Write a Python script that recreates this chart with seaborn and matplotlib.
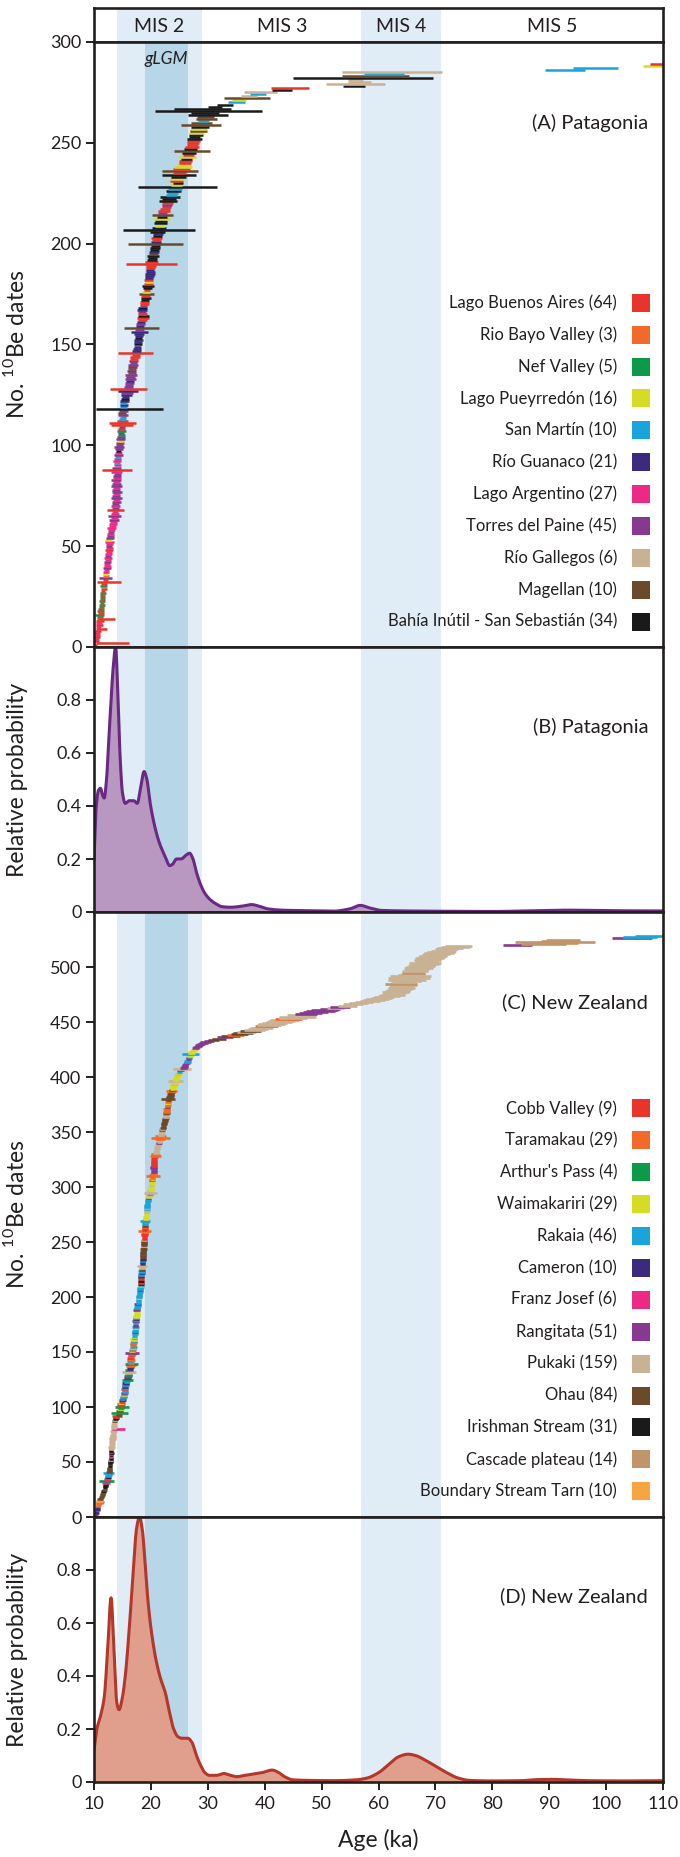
import numpy as np
import pandas as pd
import matplotlib
matplotlib.use("Agg")
import matplotlib.pyplot as plt
from matplotlib.patches import Rectangle
import seaborn as sns

# ---------------- DATA ----------------
MIS_NAMES = ["MIS 2", "MIS 3", "MIS 4", "MIS 5"]
MIS_CENTERS = [21.5, 43.0, 64.0, 90.5]
MIS2_SPAN = (14.0, 29.0)
GLGM_SPAN = (19.0, 26.5)
MIS4_SPAN = (57.0, 71.0)

A_SITES = ["Lago Buenos Aires (64)", "Rio Bayo Valley (3)", "Nef Valley (5)",
           "Lago Pueyrredón (16)", "San Martín (10)", "Río Guanaco (21)",
           "Lago Argentino (27)", "Torres del Paine (45)", "Río Gallegos (6)",
           "Magellan (10)", "Bahía Inútil - San Sebastián (34)"]
A_CODES = "rogycdpvtbk"

C_SITES = ["Cobb Valley (9)", "Taramakau (29)", "Arthur's Pass (4)", "Waimakariri (29)",
           "Rakaia (46)", "Cameron (10)", "Franz Josef (6)", "Rangitata (51)",
           "Pukaki (159)", "Ohau (84)", "Irishman Stream (31)", "Cascade plateau (14)",
           "Boundary Stream Tarn (10)"]
C_CODES = "rogycdpvtbksa"

A_AGE = [
    10.2, 13.2, 10.4, 10.5, 10.4, 10.6, 10.5, 10.7, 11.3, 10.8,
    11.0, 10.9, 11.0, 12.1, 11.1, 11.0, 11.2, 11.1, 11.2, 11.3,
    11.35, 11.4, 11.4, 11.5, 11.5, 11.5, 11.6, 11.6, 11.7, 11.7,
    11.7, 12.6, 12.0, 12.0, 12.1, 12.0, 12.1, 12.2, 12.2, 12.3,
    12.3, 12.4, 12.4, 12.5, 12.5, 12.6, 12.6, 12.6, 12.7, 12.6,
    12.7, 12.7, 12.6, 12.8, 12.9, 12.9, 13.0, 13.1, 13.1, 13.2,
    13.3, 13.4, 13.5, 13.6, 13.6, 13.7, 13.7, 13.75, 13.8, 13.8,
    13.85, 13.9, 13.9, 13.9, 13.9, 14.0, 14.0, 13.9, 14.0, 14.0,
    14.0, 14.0, 13.9, 14.0, 14.0, 14.1, 14.0, 14.0, 14.0, 14.1,
    14.1, 14.1, 14.2, 14.2, 14.3, 14.3, 14.3, 14.4, 14.4, 14.5,
    14.6, 14.6, 14.7, 14.7, 14.8, 14.8, 14.9, 14.9, 14.9, 14.9,
    15.0, 15.0, 15.0, 15.1, 15.1, 15.0, 15.2, 16.2, 15.2, 15.3,
    15.2, 15.3, 15.4, 15.5, 15.7, 15.8, 16.0, 16.1, 16.0, 16.2,
    16.2, 16.3, 16.4, 16.4, 16.5, 16.6, 16.6, 16.7, 16.8, 16.9,
    16.9, 17.0, 17.1, 17.2, 17.3, 17.35, 17.4, 17.5, 17.6, 17.7,
    17.7, 17.8, 17.8, 17.9, 17.9, 18.0, 18.0, 18.4, 18.1, 18.2,
    18.3, 18.5, 18.6, 18.7, 18.5, 18.4, 18.5, 18.6, 18.7, 18.8,
    18.9, 19.0, 19.1, 19.1, 19.2, 19.2, 19.3, 19.4, 19.5, 19.5,
    19.6, 19.6, 19.7, 19.8, 19.8, 19.9, 19.9, 19.9, 20.0, 20.1,
    20.1, 20.2, 20.3, 20.4, 20.4, 20.5, 20.6, 20.7, 20.8, 20.8,
    20.9, 21.0, 21.0, 21.1, 21.2, 21.2, 21.45, 21.4, 21.6, 21.7,
    21.8, 21.9, 22.0, 22.0, 22.1, 22.3, 22.5, 22.7, 22.8, 22.9,
    23.0, 23.2, 23.4, 23.6, 23.8, 24.0, 24.2, 24.7, 24.5, 24.7,
    24.5, 24.6, 24.8, 24.9, 25.0, 25.1, 25.3, 25.6, 25.8, 26.0,
    26.1, 26.3, 26.5, 26.6, 26.7, 27.2, 27.0, 27.2, 27.3, 27.4,
    27.5, 27.6, 27.7, 27.9, 28.0, 28.3, 28.5, 28.6, 28.8, 28.9,
    29.2, 29.8, 29.6, 30.0, 29.5, 30.2, 29.0, 31.3, 33.1, 35.1,
    35.5, 36.9, 37.2, 38.8, 39.2, 43.0, 44.4, 55.7, 55.9, 56.6,
    56.0, 57.2, 59.4, 61.0, 62.3, 92.8, 98.1, 110.5, 112.0]
A_ERR = [
    0.4, 2.9, 0.5, 0.4, 0.6, 0.4, 0.6, 0.5, 1.0, 0.5,
    0.6, 0.5, 0.7, 1.6, 0.5, 0.8, 0.5, 0.6, 0.5, 0.5,
    0.5, 0.4, 0.6, 0.5, 0.4, 0.5, 0.5, 0.4, 0.5, 0.6,
    0.5, 2.1, 0.5, 1.1, 0.6, 0.5, 0.6, 0.5, 0.7, 0.6,
    0.5, 0.6, 0.5, 0.7, 0.5, 0.6, 0.5, 0.7, 0.6, 0.5,
    0.6, 0.8, 0.6, 0.7, 0.6, 0.6, 0.5, 0.6, 0.8, 0.6,
    0.7, 0.6, 0.9, 0.6, 1.2, 0.7, 0.6, 1.5, 0.6, 0.8,
    0.6, 0.8, 0.6, 1.0, 0.7, 0.6, 0.9, 0.7, 0.6, 1.0,
    0.8, 0.6, 0.9, 0.7, 0.7, 0.6, 1.0, 2.6, 0.8, 0.6,
    0.5, 0.7, 0.6, 0.5, 0.8, 0.6, 0.5, 0.7, 0.8, 0.6,
    0.7, 0.6, 0.8, 0.7, 0.6, 0.5, 0.8, 0.6, 0.5, 2.0,
    2.3, 0.9, 0.6, 0.5, 0.8, 0.7, 0.8, 5.9, 0.6, 0.7,
    0.6, 0.8, 0.7, 0.6, 0.9, 1.0, 1.7, 3.3, 0.8, 0.7,
    0.8, 0.7, 0.9, 0.8, 1.0, 0.7, 0.8, 0.7, 0.8, 0.9,
    0.6, 0.8, 0.7, 0.9, 0.7, 3.05, 0.8, 0.7, 0.6, 0.7,
    0.7, 0.8, 0.6, 0.7, 0.8, 1.5, 0.8, 3.1, 0.7, 0.8,
    0.7, 0.8, 1.1, 0.9, 0.8, 0.7, 0.9, 0.8, 0.7, 0.8,
    0.8, 0.7, 0.9, 0.8, 1.3, 0.7, 0.6, 0.8, 1.0, 0.8,
    0.7, 0.8, 0.7, 0.8, 0.9, 0.8, 0.7, 0.8, 0.9, 4.4,
    1.2, 0.9, 0.8, 1.0, 0.8, 0.9, 0.8, 0.9, 0.8, 4.9,
    0.9, 0.8, 1.0, 0.8, 0.9, 1.3, 6.3, 1.2, 0.9, 1.1,
    1.0, 1.4, 0.9, 1.8, 0.8, 1.0, 0.9, 0.8, 0.9, 1.0,
    1.5, 1.2, 1.8, 1.0, 1.0, 1.3, 1.2, 6.9, 1.0, 0.9,
    1.1, 1.2, 1.3, 3.0, 1.2, 3.1, 1.5, 1.6, 1.2, 1.0,
    1.2, 1.0, 1.5, 1.0, 1.2, 3.1, 1.1, 1.2, 1.0, 1.0,
    1.2, 1.3, 1.0, 1.2, 1.3, 1.5, 1.4, 1.6, 3.5, 1.8,
    1.0, 1.9, 1.5, 3.5, 2.5, 9.4, 5.0, 1.2, 1.4, 1.5,
    1.3, 4.0, 1.4, 1.4, 2.9, 1.8, 3.3, 1.9, 5.2, 2.0,
    1.3, 12.3, 5.9, 3.5, 8.8, 3.5, 4.0, 4.0, 4.3]
A_SITE = ("rrrprrprrp" "rprrrgrrgr" "grgrgrgrrg" "rrrvoyppvp" "pvppvpprpv"
          "ppyvvpvppp" "ppvpvpprvp" "vvpvvpvvpv" "vpvpvvprvp" "cppcvpkvvv"
          "vyvvgvgrvr" "rrccvbvkcd" "cdkddvdrvv" "vdvvvvbvbv" "vvrrrrdddk"
          "ddkdddvbdv" "drrkrvdkvr" "rkkrbyrkkr" "yrdddddrrr" "rkkkbdkkkb"
          "drrkdkkkyk" "kykbvrrrvr" "kkkcckckyk" "rykkrbryyr" "rkyrkbkrrr"
          "rkkkybykbb" "cbbkkkkkkc" "ybtctkrktt" "tkbctccyr")

C_AGE = [
    10.1, 10.2, 10.3, 10.5, 10.4, 10.5, 10.6, 10.6, 10.7, 10.7,
    10.8, 10.8, 10.9, 11.0, 11.0, 11.1, 11.2, 11.3, 11.4, 11.5,
    11.5, 11.6, 11.7, 11.7, 11.8, 11.9, 11.9, 12.0, 12.0, 12.1,
    12.1, 12.2, 12.2, 12.3, 12.3, 12.4, 12.5, 12.5, 12.6, 12.6,
    12.6, 12.7, 12.7, 12.7, 12.7, 12.8, 12.8, 12.8, 12.8, 12.9,
    12.9, 12.9, 13.0, 13.0, 13.0, 13.0, 13.0, 13.1, 13.0, 13.0,
    13.0, 13.1, 13.1, 13.1, 13.1, 13.2, 13.2, 13.2, 13.2, 13.2,
    13.3, 13.3, 13.3, 13.3, 13.3, 13.4, 13.4, 13.4, 13.4, 14.3,
    13.4, 13.5, 13.5, 13.5, 13.5, 13.6, 13.6, 13.7, 13.8, 13.9,
    13.9, 14.1, 14.3, 14.4, 14.5, 14.5, 14.6, 14.7, 14.8, 14.9,
    14.7, 14.8, 14.7, 14.7, 14.9, 15.0, 15.0, 15.1, 15.2, 15.3,
    15.3, 15.3, 15.3, 15.4, 15.4, 15.4, 15.4, 15.4, 15.5, 15.5,
    15.6, 15.6, 15.7, 15.8, 15.9, 15.9, 16.0, 16.0, 16.0, 16.1,
    16.1, 16.2, 16.3, 16.2, 16.3, 16.4, 16.4, 16.5, 16.6, 16.5,
    16.4, 16.4, 16.5, 16.4, 16.4, 16.5, 16.6, 16.6, 16.7, 16.7,
    16.7, 16.8, 16.8, 16.8, 16.9, 16.9, 16.9, 16.9, 17.0, 17.0,
    17.0, 17.0, 17.1, 17.1, 17.1, 17.2, 17.2, 17.2, 17.2, 17.3,
    17.3, 17.3, 17.3, 17.3, 17.3, 17.3, 17.4, 17.3, 17.4, 17.4,
    17.4, 17.4, 17.4, 17.5, 17.5, 17.5, 17.5, 17.5, 17.6, 17.6,
    17.6, 17.7, 17.7, 17.7, 17.8, 17.8, 17.8, 17.8, 17.9, 17.9,
    17.9, 18.0, 18.0, 18.0, 18.1, 18.1, 18.1, 18.1, 18.2, 18.2,
    18.2, 18.2, 18.2, 18.3, 18.3, 18.3, 18.3, 18.3, 18.3, 18.3,
    18.3, 18.4, 18.4, 18.4, 18.4, 18.4, 18.4, 18.4, 18.5, 18.5,
    18.5, 18.5, 18.5, 18.6, 18.6, 18.6, 18.6, 18.6, 18.6, 18.6,
    18.6, 18.7, 18.7, 18.7, 18.7, 18.7, 18.8, 18.8, 18.8, 18.8,
    18.8, 18.8, 18.9, 18.9, 18.9, 18.9, 18.9, 19.0, 19.0, 18.9,
    18.9, 19.0, 19.0, 19.0, 19.0, 19.0, 19.0, 19.1, 19.0, 19.1,
    19.1, 19.1, 19.1, 19.2, 19.2, 19.2, 19.2, 19.3, 19.3, 19.3,
    19.3, 19.3, 19.3, 19.3, 19.4, 19.4, 19.5, 19.5, 19.6, 19.6,
    19.7, 19.7, 19.8, 19.8, 19.9, 19.9, 20.0, 20.0, 20.0, 20.1,
    20.1, 20.1, 20.1, 20.2, 20.2, 20.2, 20.3, 20.3, 20.3, 20.4,
    20.4, 20.4, 20.5, 20.5, 20.5, 20.5, 20.5, 20.5, 20.5, 20.5,
    20.5, 20.5, 20.5, 20.5, 20.6, 20.6, 20.7, 20.8, 20.8, 20.8,
    20.9, 20.9, 21.0, 21.0, 21.1, 21.1, 21.2, 21.2, 21.3, 21.4,
    21.5, 21.5, 21.6, 21.6, 21.7, 21.7, 21.8, 21.8, 21.9, 21.9,
    22.0, 22.0, 22.0, 22.1, 22.2, 22.2, 22.3, 22.3, 22.4, 22.5,
    22.5, 22.5, 22.6, 22.6, 22.7, 22.7, 22.7, 22.8, 22.8, 22.8,
    22.8, 22.9, 22.9, 22.9, 23.0, 23.0, 23.0, 23.1, 23.1, 23.0,
    23.2, 23.3, 23.4, 23.5, 23.5, 23.6, 23.6, 23.7, 23.8, 23.9,
    23.9, 24.0, 24.0, 24.1, 24.2, 24.3, 24.3, 24.4, 24.5, 24.6,
    24.6, 24.7, 24.8, 24.9, 25.0, 25.2, 25.5, 25.7, 25.9, 26.0,
    26.0, 26.1, 26.3, 26.4, 26.5, 26.6, 26.7, 26.8, 26.9, 27.0,
    27.0, 27.1, 27.2, 27.4, 27.6, 27.8, 28.0, 28.3, 28.5, 28.8,
    29.2, 29.6, 30.2, 31.0, 32.0, 33.0, 34.0, 34.8, 35.5, 36.2,
    36.8, 37.5, 38.2, 38.8, 39.5, 40.3, 40.8, 41.2, 41.8, 42.5,
    43.0, 43.5, 44.2, 45.0, 45.8, 46.5, 47.3, 48.0, 49.0, 49.8,
    50.5, 51.5, 52.5, 53.2, 54.5, 55.5, 56.5, 57.5, 58.5, 59.2,
    59.8, 60.5, 61.0, 61.8, 62.5, 62.8, 63.0, 63.3, 63.5, 63.8,
    64.0, 64.0, 64.2, 64.5, 64.0, 64.5, 64.8, 65.0, 65.2, 65.4,
    65.5, 65.6, 65.8, 66.0, 66.2, 66.4, 66.5, 66.8, 67.0, 67.2,
    67.5, 67.8, 68.0, 68.2, 68.4, 68.6, 68.8, 69.0, 69.3, 69.6,
    69.9, 70.2, 70.6, 71.0, 71.5, 72.0, 72.5, 73.5, 74.0, 84.4,
    89.0, 90.5, 91.0, 92.0, 92.5, 104.5, 106.0, 108.0]
C_ERR = [
    .3, .3, .4, .4, .3, .5, .4, .3, .4, .4,
    .4, .5, .6, .7, .6, .5, .4, .4, .4, .4,
    .4, .4, .4, .4, .4, .4, .4, .4, .4, .4,
    .7, .4, 1.3, .5, .6, .5, .5, .6, .5, 1.0,
    .5, .4, .4, .4, .4, .4, .4, .4, .4, .4,
    .4, .4, .4, .4, .4, .4, .4, .4, .4, .4,
    .4, .5, .4, .6, .5, .5, .4, .5, .4, .5,
    .5, .6, .5, .5, .5, .5, .5, .6, .5, 1.15,
    .5, .6, .5, .4, .5, .5, .5, .5, .5, .5,
    .5, .9, .5, .5, 1.5, .6, .5, .6, .5, 1.2,
    .6, .5, .7, .5, .5, .6, .5, .5, .6, .5,
    .5, .5, .6, .5, .5, .6, .5, .5, .5, .6,
    .5, .6, .5, .5, 1.0, .6, .5, .7, .6, .5,
    .6, 1.2, .6, .7, .5, .6, .7, .8, 1.2, .6,
    .5, .6, .7, .5, .6, .5, .6, .7, 1.2, .5,
    .5, .6, .5, .5, .6, .5, .5, .6, .5, .5,
    .5, .6, .5, .5, .5, .5, .6, .5, .5, .5,
    .5, .5, .6, .5, .5, .5, .5, .6, .5, .5,
    .5, .5, .6, .5, .5, .5, .5, .6, .5, .5,
    .5, .5, .5, .6, .5, .5, .5, .5, .5, .5,
    .5, .5, .5, .5, .5, .5, .5, .5, .5, .5,
    .5, .5, .5, .5, .5, .5, .5, .5, .5, .5,
    .5, .5, .5, .6, .5, .5, .5, .9, .5, .5,
    .5, .5, .5, .5, .5, .5, .5, .5, .5, .5,
    .5, .5, .5, .6, .5, .5, .5, .5, .5, .5,
    .5, .5, .5, .5, .5, .6, .6, .5, .5, 1.2,
    .5, .5, .5, .5, .5, .5, .5, .5, .9, .5,
    .5, .5, .5, .5, .5, .5, .5, .5, .5, .5,
    .5, .5, .5, .5, .5, .5, .5, .5, .5, .5,
    .5, .5, .5, .5, 1.2, .5, .5, .5, .5, .5,
    .5, .5, .5, .5, .5, .5, .5, .5, .5, 1.2,
    .7, .6, .5, .5, .5, .5, .6, .6, .5, .5,
    .5, .5, .5, .5, .5, .5, .5, .9, .8, .7,
    .5, .5, .5, .5, .5, .5, .5, .5, .5, .5,
    .5, .5, .5, .8, 1.6, 1.0, .5, .5, .5, .5,
    .5, .5, .5, .5, .5, .5, .5, .5, .5, .5,
    .5, .5, .5, .5, .5, .5, .6, .6, .5, .5,
    .6, .5, .5, .5, .6, .5, .5, .5, .5, 1.3,
    .6, .6, .6, .5, .6, .6, 1.0, .6, .5, .5,
    .5, .5, .6, .6, .5, 1.3, .5, .6, .5, .5,
    .5, .5, .5, .5, .5, .6, 1.6, .6, .6, .6,
    .6, .5, .5, .6, .6, .5, .6, .5, .5, .5,
    1.5, .6, .6, .6, .6, .6, .6, .6, .7, .7,
    .8, .9, .9, 1.0, 1.2, 1.4, 1.6, 1.5, 1.5, 1.8,
    1.6, 1.8, 1.8, 1.7, 2.0, 2.0, 2.1, 2.4, 2.2, 2.3,
    2.4, 2.5, 2.4, 2.5, 3.2, 2.6, 1.9, 2.0, 2.2, 2.5,
    2.3, 1.8, 1.5, 1.8, 1.7, 1.8, 1.7, 1.6, 1.7, 2.0,
    2.0, 1.8, 1.8, 1.9, 2.2, 2.0, 2.4, 2.2, 2.0, 2.1,
    2.4, 2.2, 2.1, 2.3, 2.8, 2.0, 2.6, 3.3, 2.2, 3.7,
    2.3, 3.6, 2.4, 2.1, 2.0, 2.3, 1.8, 2.0, 2.5, 2.4,
    2.4, 2.2, 2.6, 2.8, 2.0, 2.4, 2.1, 2.5, 2.3, 2.5,
    2.2, 2.4, 2.6, 2.5, 2.2, 2.0, 2.3, 2.5, 2.4, 2.6,
    4.0, 4.5, 7.0, 3.5, 3.0, 3.5, 3.0, 3.0]
C_SITE = ("ddvddvdddo" "ooooabbbbb" "bbbkbbkkkk" "ppgppkcccc" "bbbbbkkbkk"
          "ktkkpkpkpk" "kttttttttt" "tttttttttp" "ttttttbtkk" "rrbbgbgygg"
          "grryrdcrcc" "ycvccrcdvc" "vdccgdvvgg" "tttgddoogo" "ocoororovv"
          "ycoycocooc" "yycycccvcc" "cycvvccvcd" "cyyyyyyvvc" "cccvccccyc"
          "cccccbccca" "ckrrkrrbdc" "cdccbttttb" "ddcbdbbbvb" "bbbbbtbbbb"
          "btrrrrrroo" "rrrobccocc" "yyyyyytttc" "tccccccccv" "yytcttyyyy"
          "ytyyyryooo" "ooovvvvvrr" "rrrrrrrooo" "tttttttttv" "tttoootttt"
          "tbtbbbbbbb" "bbbttobooo" "oobooyoobb" "bbbbbbobyy" "yyytytyyyy"
          "yytycvtvvv" "vvvccvvcyy" "cyyyyvvvvv" "vvvbbvbobb" "tbtttotttt"
          "ttotttvvvv" "vvtvtttttt" "tttttttttt" "ttttsttttt" "ttttsttttt"
          "tttttttttt" "tttttttttv" "sssssvcc")

# relative probability curves (age ka, rel. prob.)
B_AGE = [10.0, 10.4, 10.8, 11.15, 11.5, 11.8, 12.2, 12.6, 13.0, 13.4, 13.8, 14.2,
         14.6, 15.0, 15.5, 16.2, 17.0, 17.6, 18.2, 18.8, 19.3, 19.8, 20.6, 21.5,
         22.5, 23.3, 23.8, 24.5, 25.3, 26.2, 26.8, 27.4, 28.0, 28.8, 29.5, 30.5,
         31.5, 32.5, 34.0, 36.0, 37.7, 39.0, 40.5, 43.0, 47.0, 52.0, 55.0, 56.8,
         58.5, 60.5, 65.0, 70.0, 80.0, 88.0, 93.0, 100.0, 110.0]
B_PROB = [0.20, 0.40, 0.46, 0.467, 0.44, 0.43, 0.50, 0.65, 0.80, 0.93, 1.0, 0.82,
          0.58, 0.45, 0.41, 0.42, 0.42, 0.41, 0.47, 0.53, 0.50, 0.42, 0.33, 0.26,
          0.21, 0.175, 0.18, 0.20, 0.20, 0.215, 0.222, 0.20, 0.15, 0.10, 0.07, 0.045,
          0.03, 0.02, 0.018, 0.022, 0.028, 0.022, 0.012, 0.007, 0.005, 0.003, 0.012, 0.025,
          0.015, 0.006, 0.004, 0.003, 0.002, 0.005, 0.007, 0.005, 0.004]
D_AGE = [10.0, 10.5, 11.15, 11.8, 12.4, 13.0, 13.5, 14.0, 14.4, 15.0, 15.5, 16.2,
         16.9, 17.5, 18.0, 18.5, 19.0, 19.5, 20.2, 21.0, 21.7, 22.5, 23.2, 24.0,
         24.8, 25.5, 26.5, 27.2, 28.0, 28.8, 29.5, 30.3, 31.5, 32.8, 34.0, 35.0,
         36.5, 38.0, 39.5, 41.3, 42.5, 43.5, 45.0, 48.0, 52.0, 56.0, 58.0, 60.0,
         62.0, 63.5, 65.2, 66.5, 68.0, 70.0, 72.0, 74.0, 76.0, 80.0, 85.0, 88.0,
         90.5, 93.0, 97.0, 103.0, 110.0]
D_PROB = [0.12, 0.20, 0.25, 0.32, 0.50, 0.695, 0.50, 0.30, 0.273, 0.32, 0.40, 0.58,
          0.80, 0.96, 1.0, 0.95, 0.82, 0.68, 0.55, 0.45, 0.39, 0.34, 0.27, 0.20,
          0.17, 0.165, 0.165, 0.15, 0.10, 0.06, 0.035, 0.025, 0.025, 0.032, 0.025, 0.02,
          0.025, 0.03, 0.035, 0.045, 0.035, 0.02, 0.008, 0.006, 0.005, 0.008, 0.015, 0.035,
          0.07, 0.095, 0.105, 0.10, 0.085, 0.06, 0.035, 0.015, 0.006, 0.004, 0.005, 0.009,
          0.01, 0.008, 0.005, 0.004, 0.005]

# ---------------- STYLE ----------------
COLORS = {"r": "#e8352b", "o": "#f26a2a", "g": "#0a9a48", "y": "#d4dc26",
          "c": "#1ba3dc", "d": "#3b2a7e", "p": "#ec2a86", "v": "#86398e",
          "t": "#c9b294", "b": "#6b4a2b", "k": "#1a1a1a", "s": "#c1956a",
          "a": "#f7a541"}
LIGHT = "#e1edf6"
DARK = "#b7d6e8"
INK = "#231f20"

sns.set_theme(style="white")
plt.rcParams["font.family"] = ["Lato", "DejaVu Sans"]
plt.rcParams["mathtext.fontset"] = "custom"
plt.rcParams["mathtext.rm"] = "Lato"
plt.rcParams["text.color"] = INK
plt.rcParams["axes.labelcolor"] = INK
plt.rcParams["xtick.color"] = INK
plt.rcParams["ytick.color"] = INK

W_PX, H_PX = 680, 1857
fig = plt.figure(figsize=(W_PX / 100, H_PX / 100), dpi=100)
L = 94 / W_PX
WD = 569 / W_PX


def box(top, bot):
    return [L, 1 - bot / H_PX, WD, (bot - top) / H_PX]


axH = fig.add_axes(box(8, 42))
axA = fig.add_axes(box(42, 647))
axB = fig.add_axes(box(647, 912))
axC = fig.add_axes(box(912, 1517))
axD = fig.add_axes(box(1517, 1782))

for ax in (axH, axA, axB, axC, axD):
    ax.set_xlim(10, 110)
    ax.set_facecolor("white")
    for sp in ax.spines.values():
        sp.set_visible(True)
        sp.set_color(INK)
        sp.set_linewidth(1.9)
        sp.set_zorder(10)
    ax.axvspan(*MIS2_SPAN, color=LIGHT, lw=0, zorder=0)
    ax.axvspan(*MIS4_SPAN, color=LIGHT, lw=0, zorder=0)
    if ax is not axH:
        ax.axvspan(*GLGM_SPAN, color=DARK, lw=0, zorder=0)
    ax.tick_params(axis="y", direction="out", length=6, width=1.4, labelsize=13,
                   left=True, pad=3)
    ax.tick_params(axis="x", direction="out", length=6, width=1.4, labelsize=13,
                   bottom=(ax is axD), labelbottom=(ax is axD), pad=4)

# header
axH.set_ylim(0, 1)
axH.set_yticks([])
for name, cx in zip(MIS_NAMES, MIS_CENTERS):
    axH.text(cx, 0.47, name, ha="center", va="center", fontsize=14)


def draw_dates(ax, ages, errs, sites, lw):
    n = min(len(ages), len(errs), len(sites))
    df = pd.DataFrame({"n": np.arange(1, n + 1), "age": ages[:n], "err": errs[:n],
                       "site": list(sites[:n])})
    ax.hlines(df["n"], df["age"] - df["err"], df["age"] + df["err"],
              colors=[COLORS[s] for s in df["site"]], lw=lw, zorder=3)


def legend(ax, names, codes, y0_px, top_px, h_px):
    for k, (nm, cd) in enumerate(zip(names, codes)):
        ypx = y0_px + 31.9 * k
        yf = (top_px + h_px - ypx) / h_px
        ax.text((617 - 94) / 569, yf, nm, transform=ax.transAxes, ha="right",
                va="center", fontsize=12, zorder=6)
        ax.add_patch(Rectangle(((632 - 94) / 569, yf - 9 / h_px), 18 / 569, 18 / h_px,
                               transform=ax.transAxes, facecolor=COLORS[cd],
                               edgecolor="none", zorder=6))


# panel A
draw_dates(axA, A_AGE, A_ERR, A_SITE, 1.8)
axA.set_ylim(0, 300)
axA.set_yticks(np.arange(0, 301, 50))
axA.text(22.75, 291.5, "gLGM", style="italic", ha="center", va="center", fontsize=12.5)
axA.text(0.974, 0.866, "(A) Patagonia", transform=axA.transAxes, ha="right",
         va="center", fontsize=14.5)
legend(axA, A_SITES, A_CODES, 302.7, 42, 605)

# panel C
draw_dates(axC, C_AGE, C_ERR, C_SITE, 1.9)
axC.set_ylim(0, 550)
axC.set_yticks(np.arange(0, 501, 50))
axC.text(0.974, 0.851, "(C) New Zealand", transform=axC.transAxes, ha="right",
         va="center", fontsize=14.5)
legend(axC, C_SITES, C_CODES, 1108.4, 912, 605)


def pchip(x, y, xn):
    x = np.asarray(x, float)
    y = np.asarray(y, float)
    h = np.diff(x)
    d = np.diff(y) / h
    m = np.zeros_like(y)
    for k in range(1, len(x) - 1):
        if d[k - 1] * d[k] > 0:
            w1 = 2 * h[k] + h[k - 1]
            w2 = h[k] + 2 * h[k - 1]
            m[k] = (w1 + w2) / (w1 / d[k - 1] + w2 / d[k])
    m[0], m[-1] = d[0], d[-1]
    i = np.clip(np.searchsorted(x, xn) - 1, 0, len(h) - 1)
    t = (xn - x[i]) / h[i]
    h00 = 2 * t**3 - 3 * t**2 + 1
    h10 = t**3 - 2 * t**2 + t
    h01 = -2 * t**3 + 3 * t**2
    h11 = t**3 - t**2
    return h00 * y[i] + h10 * h[i] * m[i] + h01 * y[i + 1] + h11 * h[i] * m[i + 1]


def draw_density(ax, xs, ys, fill, line, label):
    xf = np.linspace(10, 110, 2001)
    yf = np.clip(pchip(xs, ys, xf), 0, None)
    ax.fill_between(xf, 0, yf, color=fill, lw=0, zorder=2)
    sns.lineplot(x=xf, y=yf, ax=ax, color=line, lw=2.2, estimator=None, zorder=3)
    ax.set_ylim(0, 1.0)
    ax.set_yticks([0, 0.2, 0.4, 0.6, 0.8])
    ax.set_yticklabels(["0", "0.2", "0.4", "0.6", "0.8"])
    ax.text(0.974, 0.70, label, transform=ax.transAxes, ha="right", va="center",
            fontsize=14.5)


draw_density(axB, B_AGE, B_PROB, "#b898c1", "#6a2a82", "(B) Patagonia")
draw_density(axD, D_AGE, D_PROB, "#e09f8d", "#b5372b", "(D) New Zealand")

axD.set_xticks(np.arange(10, 111, 10))
axD.set_xlabel("Age (ka)", fontsize=16.5, labelpad=12)
for ax in (axH, axA, axB, axC):
    ax.set_xlabel("")
    ax.set_xticks([])

for ax, lab in ((axA, r"No. $^{\mathrm{10}}$Be dates"), (axB, "Relative probability"),
                (axC, r"No. $^{\mathrm{10}}$Be dates"), (axD, "Relative probability")):
    ax.set_ylabel(lab, fontsize=16.5)
    ax.yaxis.set_label_coords(-0.116, 0.5)

fig.savefig("out.png", dpi=100, facecolor="white")
